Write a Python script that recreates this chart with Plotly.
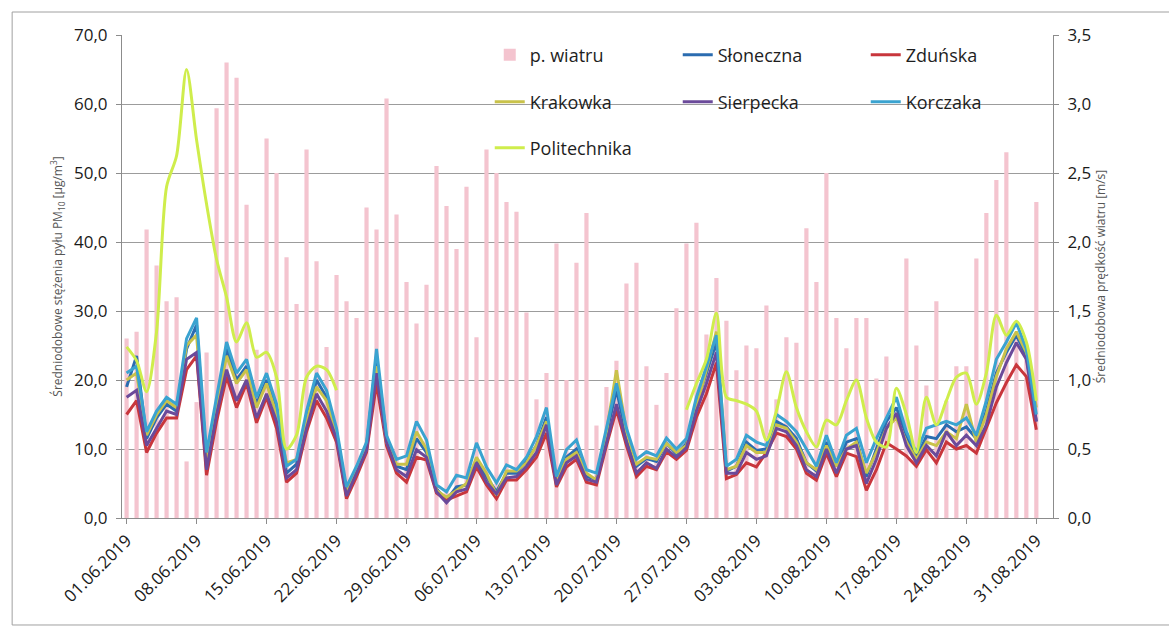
import pandas as pd
import plotly.graph_objects as go

# Daily dates, 1 June - 31 August 2019
dates = pd.date_range("2019-06-01", "2019-08-31", freq="D")

# Daily mean wind speed [m/s]
wind = [1.30, 1.35, 2.09, 1.83, 1.57, 1.60, 0.41, 0.84, 1.20, 2.97,
        3.30, 3.19, 2.27, 1.22, 2.75, 2.50, 1.89, 1.55, 2.67, 1.86,
        1.24, 1.76, 1.57, 1.45, 2.25, 2.09, 3.04, 2.20, 1.71, 1.41,
        1.69, 2.55, 2.26, 1.95, 2.40, 1.31, 2.67, 2.50, 2.29, 2.22,
        1.49, 0.86, 1.05, 1.99, 1.00, 1.85, 2.21, 0.67, 0.95, 1.14,
        1.70, 1.85, 1.10, 0.82, 1.05, 1.52, 1.99, 2.14, 1.33, 1.74,
        1.43, 1.07, 1.25, 1.23, 1.54, 0.86, 1.31, 1.27, 2.10, 1.71,
        2.50, 1.45, 1.23, 1.45, 1.45, 1.01, 1.17, 0.70, 1.88, 1.25,
        0.96, 1.57, 0.85, 1.10, 1.10, 1.88, 2.21, 2.45, 2.65, 1.30,
        1.25, 2.29]

# Daily mean PM10 concentrations [ug/m3] per station
sloneczna = [19.0, 23.5, 11.5, 14.5, 16.5, 15.5, 24.5, 28.0, 8.0, 16.5,
             24.5, 20.0, 22.0, 16.5, 20.0, 15.5, 6.5, 7.8, 14.5, 20.0,
             17.5, 12.5, 3.8, 7.0, 10.5, 23.5, 11.5, 7.5, 7.0, 11.5,
             9.5, 4.2, 2.6, 4.5, 4.8, 8.5, 6.0, 3.8, 6.5, 6.5,
             8.3, 10.5, 14.6, 5.2, 8.8, 10.0, 6.0, 5.6, 12.0, 18.6,
             12.0, 7.5, 8.6, 8.2, 10.8, 9.3, 10.8, 16.5, 21.0, 25.5,
             6.8, 7.5, 11.0, 9.8, 10.0, 14.0, 13.2, 11.5, 8.0, 6.8,
             11.0, 7.5, 11.0, 11.5, 6.0, 10.0, 14.0, 16.0, 12.0, 8.8,
             11.8, 11.5, 13.5, 12.5, 13.2, 11.5, 15.5, 21.0, 24.0, 26.5,
             23.5, 14.0]

zdunska = [15.0, 17.0, 9.5, 12.3, 14.5, 14.5, 21.5, 23.5, 6.2, 14.0,
           20.5, 16.0, 19.5, 13.8, 17.5, 13.0, 5.2, 6.5, 12.5, 17.0,
           14.5, 11.0, 2.8, 6.0, 9.5, 19.5, 10.5, 6.5, 5.2, 8.8,
           8.4, 3.6, 2.6, 3.2, 3.8, 7.4, 4.8, 2.8, 5.5, 5.5,
           7.0, 8.8, 12.3, 4.5, 7.4, 8.5, 5.2, 4.8, 10.5, 15.7,
           10.5, 6.0, 7.5, 7.0, 9.6, 8.5, 9.8, 14.6, 18.0, 22.5,
           5.7, 6.3, 8.0, 7.4, 9.5, 12.3, 11.8, 10.0, 6.5, 5.5,
           9.4, 6.0, 9.4, 8.9, 4.0, 7.0, 10.9, 10.0, 9.0, 7.5,
           9.9, 8.0, 11.0, 10.0, 10.5, 9.4, 13.0, 16.7, 19.6, 22.2,
           20.5, 12.8]

krakowka = [20.0, 21.0, 12.0, 15.0, 17.0, 16.0, 25.0, 26.5, 8.5, 16.0,
            23.5, 19.5, 21.5, 16.0, 19.5, 15.0, 8.0, 8.5, 14.0, 19.0,
            17.0, 12.0, 3.6, 7.2, 10.5, 22.0, 11.0, 7.8, 7.8, 12.5,
            10.0, 4.0, 3.0, 4.0, 5.0, 8.8, 6.5, 3.3, 6.8, 6.8,
            8.0, 10.5, 14.0, 5.5, 8.5, 9.5, 6.5, 5.5, 12.5, 21.4,
            12.5, 7.8, 8.8, 8.5, 10.8, 9.5, 10.5, 16.0, 21.5, 27.0,
            7.0, 7.5, 10.5, 9.5, 9.5, 13.5, 13.0, 11.0, 8.0, 7.0,
            10.5, 7.5, 10.0, 11.0, 6.5, 9.5, 13.0, 14.5, 11.0, 8.5,
            11.0, 10.5, 12.5, 11.5, 16.5, 11.0, 15.0, 20.5, 24.5, 27.0,
            24.0, 16.0]

sierpecka = [17.5, 18.5, 10.5, 13.0, 15.5, 15.0, 23.0, 24.0, 7.0, 15.0,
             21.5, 17.0, 20.0, 14.5, 18.0, 14.0, 5.8, 7.0, 13.0, 18.0,
             15.5, 11.5, 3.2, 6.5, 9.8, 21.0, 11.0, 7.0, 6.0, 9.9,
             8.8, 3.8, 2.2, 3.8, 4.2, 8.0, 5.2, 3.5, 5.8, 6.0,
             7.5, 9.5, 13.5, 4.8, 8.0, 9.0, 5.6, 5.2, 11.0, 16.5,
             11.0, 6.5, 8.0, 7.2, 10.0, 8.8, 10.2, 15.5, 19.5, 24.0,
             6.5, 6.5, 9.5, 8.5, 9.0, 13.0, 12.5, 10.5, 7.0, 6.0,
             10.0, 6.5, 10.0, 10.5, 5.0, 8.5, 13.0, 15.2, 10.5, 8.0,
             10.5, 9.0, 12.5, 10.5, 12.0, 10.5, 13.5, 19.0, 22.5, 25.4,
             23.0, 14.0]

korczaka = [21.0, 22.0, 12.5, 15.5, 17.5, 16.5, 26.0, 29.0, 9.5, 17.5,
            25.5, 21.0, 23.0, 17.5, 21.0, 16.5, 7.5, 8.5, 15.5, 21.0,
            18.5, 13.0, 4.5, 7.5, 11.0, 24.5, 12.0, 8.5, 9.0, 14.0,
            11.3, 4.8, 3.8, 6.2, 5.8, 10.9, 7.4, 5.1, 7.7, 7.0,
            8.8, 11.8, 16.0, 6.0, 9.9, 11.3, 7.0, 6.5, 13.0, 19.5,
            13.0, 8.5, 9.6, 9.0, 11.6, 10.0, 11.5, 17.5, 22.0, 26.5,
            7.5, 8.5, 12.0, 11.0, 10.5, 15.0, 14.0, 12.5, 10.0, 7.5,
            12.0, 8.0, 12.0, 13.0, 8.0, 11.5, 14.5, 17.5, 12.5, 9.5,
            13.0, 13.5, 14.0, 13.5, 14.5, 12.0, 17.0, 23.0, 25.5, 28.3,
            24.5, 15.0]

politechnika = [24.8, 22.8, 18.3, 27.0, 48.0, 52.5, 65.0, 54.8, 45.5, 37.5,
                32.0, 25.5, 28.3, 23.3, 24.0, 20.4, 10.0, 12.0, 20.4, 22.0,
                21.5, 18.5, None, None, None, None, None, None, None, None,
                None, None, None, None, None, None, None, None, None, None,
                None, None, None, None, None, None, None, None, None, None,
                None, None, None, None, None, None, 15.7, 19.5, 23.0, 29.7,
                17.5, 17.0, 16.5, 15.5, 11.3, 15.5, 21.2, 16.0, 12.5, 10.3,
                14.2, 13.5, 17.0, 20.0, 14.5, 11.0, 10.3, 18.8, 15.0, 9.5,
                17.5, 13.5, 17.0, 20.4, 21.0, 16.5, 21.0, 29.4, 26.5, 28.5,
                25.5, 17.0]

stations = [
    ("Słoneczna", sloneczna, "#2B6CB0", "legend", "linear"),
    ("Zduńska", zdunska, "#C8363C", "legend", "linear"),
    ("Krakowka", krakowka, "#C9C24A", "legend2", "linear"),
    ("Sierpecka", sierpecka, "#6B4A9A", "legend2", "linear"),
    ("Korczaka", korczaka, "#3AA3D0", "legend2", "linear"),
    ("Politechnika", politechnika, "#CFED4C", "legend3", "spline"),
]

DAY_MS = 86400000
FONT = "Open Sans"

fig = go.Figure()

fig.add_trace(go.Bar(
    x=dates, y=wind, name="p. wiatru", yaxis="y",
    marker=dict(color="#F4C4CF", line=dict(width=0)),
    width=0.42 * DAY_MS, legend="legend",
))

for name, values, color, leg, shape in stations:
    fig.add_trace(go.Scatter(
        x=dates, y=values, name=name, mode="lines", yaxis="y2",
        line=dict(color=color, width=3, shape=shape, smoothing=0.8),
        connectgaps=False, legend=leg,
    ))

legend_common = dict(
    orientation="h", xanchor="left", yanchor="middle", x=0.395,
    entrywidth=143, entrywidthmode="pixels",
    bgcolor="rgba(0,0,0,0)", borderwidth=0,
    font=dict(family=FONT, size=18, color="#1E1E1E"),
    itemclick=False, itemdoubleclick=False,
)

fig.update_layout(
    width=1169, height=628,
    margin=dict(l=122, r=116, t=35, b=110, autoexpand=False),
    paper_bgcolor="white", plot_bgcolor="white",
    separators=", ",
    barmode="overlay",
    showlegend=True,
    legend=dict(legend_common, y=0.9586),
    legend2=dict(legend_common, y=0.861),
    legend3=dict(legend_common, y=0.766),
    xaxis=dict(
        type="date", automargin=False,
        range=["2019-05-31 13:00", "2019-09-01 16:00"],
        tick0="2019-06-01", dtick=7 * DAY_MS,
        tickformat="%d.%m.%Y", tickangle=-45,
        ticks="outside", ticklen=5, tickcolor="#8C8C8C",
        showline=True, linecolor="#8C8C8C", linewidth=1,
        showgrid=False, zeroline=False,
        tickfont=dict(family=FONT, size=17, color="#1A1A1A"),
    ),
    yaxis=dict(
        side="right", range=[0, 3.5], dtick=0.5, tickformat=".1f",
        automargin=False, ticklabelstandoff=5,
        ticks="outside", ticklen=5, tickcolor="#8C8C8C",
        showline=True, linecolor="#8C8C8C", linewidth=1,
        showgrid=True, gridcolor="#9C9C9C", gridwidth=1, zeroline=False,
        tickfont=dict(family=FONT, size=17, color="#1A1A1A"),
        title=dict(text="Średniodobowa prędkość wiatru [m/s]",
                   font=dict(family=FONT, size=12, color="#555555"),
                   standoff=6),
    ),
    yaxis2=dict(
        side="left", overlaying="y", range=[0, 70], dtick=10, tickformat=".1f",
        automargin=False, ticklabelstandoff=5,
        ticks="outside", ticklen=5, tickcolor="#8C8C8C",
        showline=True, linecolor="#8C8C8C", linewidth=1,
        showgrid=False, zeroline=False,
        tickfont=dict(family=FONT, size=17, color="#1A1A1A"),
        title=dict(text="Średniodobowe stężenia pyłu PM<sub>10</sub> [µg/m<sup>3</sup>]",
                   font=dict(family=FONT, size=12, color="#555555"),
                   standoff=8),
    ),
    shapes=[dict(
        type="rect", xref="paper", yref="paper",
        x0=-0.118, x1=1.135, y0=-0.2215, y1=1.0476,
        line=dict(color="#A0A0A0", width=1), fillcolor="rgba(0,0,0,0)",
    )],
)

fig.write_html("out.html")
